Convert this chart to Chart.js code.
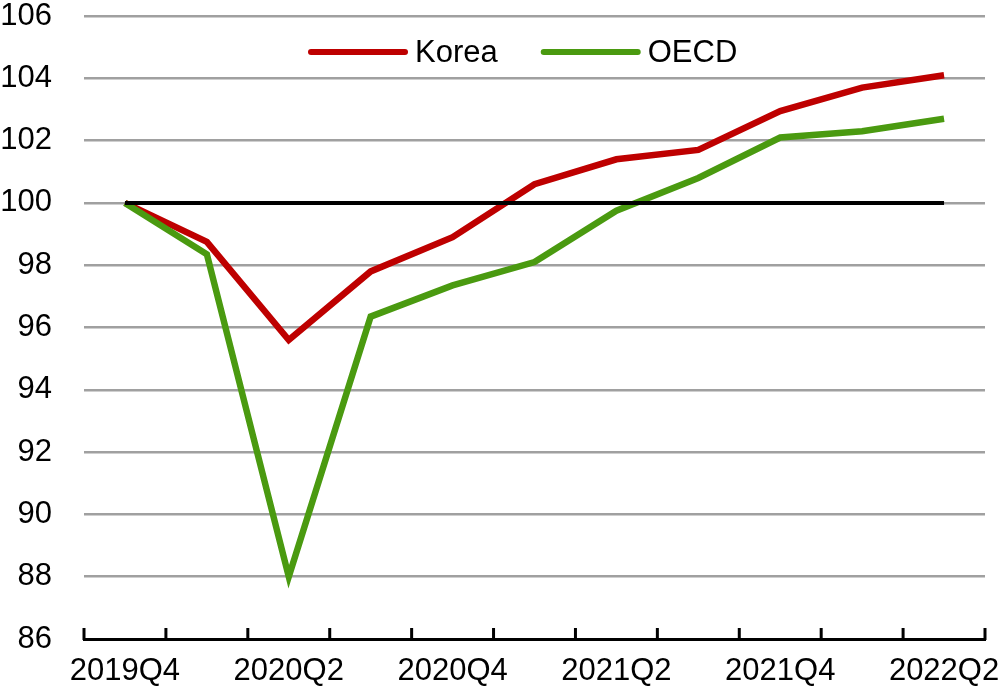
<!DOCTYPE html>
<html>
<head>
<meta charset="utf-8">
<script src="https://cdn.jsdelivr.net/npm/chart.js@4/dist/chart.umd.min.js"></script>
<style>
  html, body { margin: 0; padding: 0; background: #fff; }
  #wrap { width: 1000px; height: 686px; }
</style>
</head>
<body>
<div id="wrap"><canvas id="chart" width="1000" height="686"></canvas></div>
<script>
// quarters 2019Q4 .. 2022Q2
const quarters = ['2019Q4', '2020Q1', '2020Q2', '2020Q3', '2020Q4', '2021Q1',
  '2021Q2', '2021Q3', '2021Q4', '2022Q1', '2022Q2'];
const korea = [100, 98.75, 95.6, 97.8, 98.9, 100.6, 101.4, 101.7, 102.95, 103.7, 104.1];
const oecd = [100, 98.35, 88.0, 96.35, 97.35, 98.1, 99.75, 100.8, 102.1, 102.3, 102.7];
const baseline = [100, 100, 100, 100, 100, 100, 100, 100, 100, 100, 100];
const shownLabels = ['2019Q4', '2020Q2', '2020Q4', '2021Q2', '2021Q4', '2022Q2'];

const FONT = "'Liberation Sans Narrow', 'Arial Narrow', 'Liberation Sans', Arial, sans-serif";
const FONT_SIZE = 31;

// small tick marks pointing up from the x axis, at category boundaries
const upTicks = {
  id: 'upTicks',
  afterDatasetsDraw(chart) {
    const x = chart.scales.x;
    const ctx = chart.ctx;
    const bottom = chart.chartArea.bottom;
    ctx.save();
    ctx.strokeStyle = '#000';
    ctx.lineWidth = 3;
    for (let i = 0; i <= quarters.length; i++) {
      const px = x.getPixelForValue(i - 0.5);
      ctx.beginPath();
      ctx.moveTo(px, bottom + 1);
      ctx.lineTo(px, bottom - 11);
      ctx.stroke();
    }
    ctx.restore();
  }
};

// legend drawn inside the plot, near the top
const insideLegend = {
  id: 'insideLegend',
  afterDraw(chart) {
    const ctx = chart.ctx;
    const y = 52;
    let x = 311;
    ctx.save();
    ctx.font = FONT_SIZE + 'px ' + FONT;
    ctx.textBaseline = 'middle';
    chart.data.datasets.forEach(ds => {
      if (ds.label === 'base') return;
      ctx.strokeStyle = ds.borderColor;
      ctx.lineWidth = 6;
      ctx.lineCap = 'round';
      ctx.beginPath();
      ctx.moveTo(x, y);
      ctx.lineTo(x + 94, y);
      ctx.stroke();
      ctx.fillStyle = '#000';
      ctx.fillText(ds.label, x + 104, y + 1);
      x += 104 + ctx.measureText(ds.label).width + 46;
    });
    ctx.restore();
  }
};

const ctx = document.getElementById('chart').getContext('2d');
new Chart(ctx, {
  type: 'line',
  data: {
    labels: quarters,
    datasets: [
      {
        label: 'Korea',
        data: korea,
        borderColor: '#BE0000',
        backgroundColor: '#BE0000',
        borderWidth: 6.5,
        pointRadius: 0,
        tension: 0,
        order: 2
      },
      {
        label: 'OECD',
        data: oecd,
        borderColor: '#4A9A10',
        backgroundColor: '#4A9A10',
        borderWidth: 6.5,
        pointRadius: 0,
        tension: 0,
        order: 1
      },
      {
        label: 'base',
        data: baseline,
        borderColor: '#000',
        borderWidth: 4,
        pointRadius: 0,
        order: 0
      }
    ]
  },
  options: {
    responsive: false,
    animation: false,
    layout: { padding: { top: 16, right: 15, left: 0, bottom: 0 } },
    plugins: {
      tooltip: { enabled: false },
      legend: { display: false }
    },
    scales: {
      x: {
        offset: true,
        grid: { display: false, offset: true },
        border: { display: true, color: '#000', width: 3 },
        ticks: {
          autoSkip: false,
          maxRotation: 0,
          color: '#000',
          padding: 6,
          font: { family: FONT, size: FONT_SIZE },
          callback: function (v) {
            const l = quarters[v];
            return shownLabels.includes(l) ? l : '';
          }
        },
        afterFit(scale) {
          scale.height = 47;
          scale.paddingLeft = 0;
          scale.paddingRight = 0;
        }
      },
      y: {
        min: 86,
        max: 106,
        ticks: {
          stepSize: 2,
          color: '#000',
          padding: 32,
          font: { family: FONT, size: FONT_SIZE }
        },
        grid: {
          color: c => c.tick.value === 86 ? 'rgba(0,0,0,0)' : '#A0A0A0',
          lineWidth: 2.5,
          drawTicks: false
        },
        border: { display: false },
        afterFit(scale) {
          scale.width = 84;
          scale.paddingTop = 0;
          scale.paddingBottom = 0;
        }
      }
    }
  },
  plugins: [upTicks, insideLegend]
});
</script>
</body>
</html>
